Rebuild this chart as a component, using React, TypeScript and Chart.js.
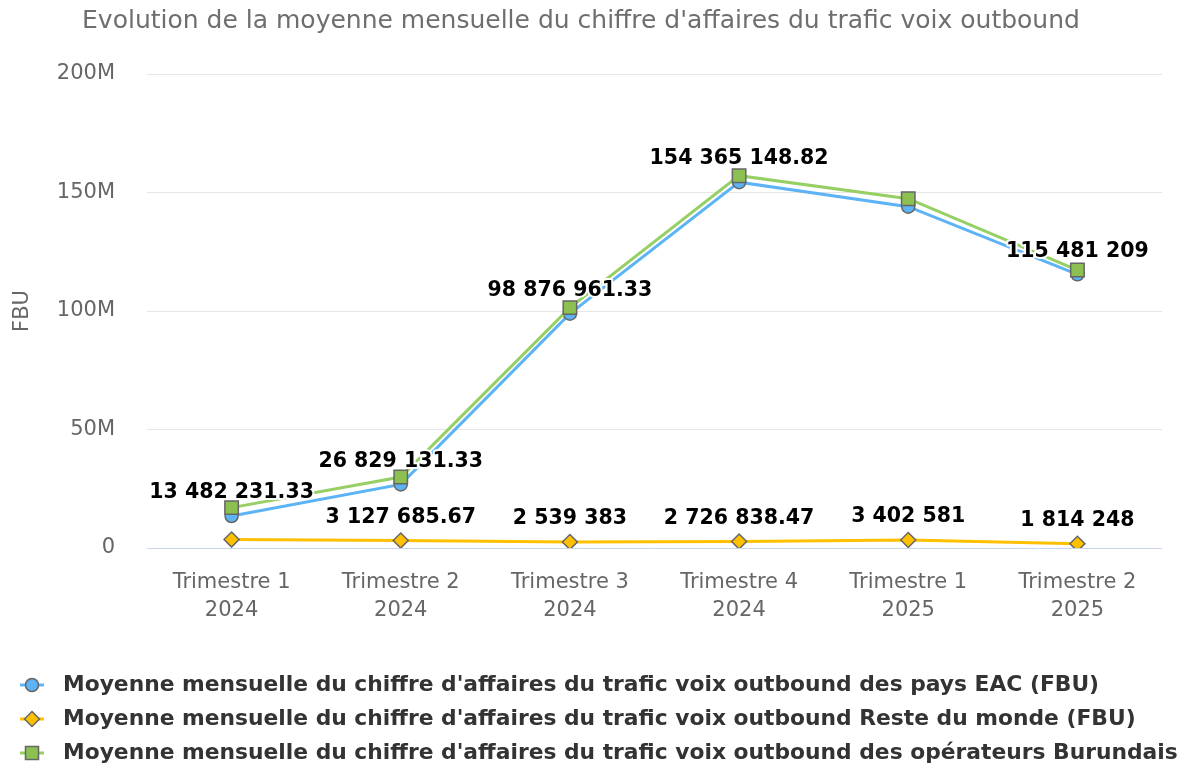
import React, { useEffect, useRef } from "react";
import { Chart, registerables } from "chart.js";

Chart.register(...registerables);

const FONT = "'DejaVu Sans', sans-serif";

const titleText = "Evolution de la moyenne mensuelle du chiffre d'affaires du trafic voix outbound";
const yAxisTitle = "FBU";

const categories: string[][] = [
  ["Trimestre 1", "2024"],
  ["Trimestre 2", "2024"],
  ["Trimestre 3", "2024"],
  ["Trimestre 4", "2024"],
  ["Trimestre 1", "2025"],
  ["Trimestre 2", "2025"],
];

const seriesNames = [
  "Moyenne mensuelle du chiffre d'affaires du trafic voix outbound des pays EAC (FBU)",
  "Moyenne mensuelle du chiffre d'affaires du trafic voix outbound Reste du monde (FBU)",
  "Moyenne mensuelle du chiffre d'affaires du trafic voix outbound des opérateurs Burundais",
];

const eacValues = [13482231.33, 26829131.33, 98876961.33, 154365148.82, 144000000, 115481209];
const resteValues = [3550000, 3127685.67, 2539383, 2726838.47, 3402581, 1814248];
const burundaisValues = [17030000, 29956817, 101416344.33, 157091987.29, 147400000, 117295457];

const eacLabelShown = [true, true, true, true, false, true];
const resteLabelShown = [false, true, true, true, true, true];
const burundaisLabelShown = [false, false, false, false, false, false];

const yTickValues = [0, 50000000, 100000000, 150000000, 200000000];

const colors = {
  eacLine: "#5cb3f5",
  eacFill: "#5cb3f5",
  resteLine: "#ffc000",
  resteFill: "#ffc000",
  burLine: "#96cf63",
  burFill: "#8cc152",
  markerBorder: "#666666",
};

function formatValue(v: number): string {
  const s = String(v);
  const [intPart, dec] = s.split(".");
  const grouped = intPart.replace(/\B(?=(\d{3})+(?!\d))/g, " ");
  return dec ? grouped + "." + dec : grouped;
}

const labelFlags = [eacLabelShown, resteLabelShown, burundaisLabelShown];

const dataLabelsPlugin = {
  id: "customDataLabels",
  afterDatasetsDraw(chart: any) {
    const ctx = chart.ctx;
    ctx.save();
    ctx.font = `bold 20.5px ${FONT}`;
    ctx.textAlign = "center";
    ctx.textBaseline = "middle";
    ctx.lineJoin = "round";
    chart.data.datasets.forEach((ds: any, di: number) => {
      const meta = chart.getDatasetMeta(di);
      const flags = labelFlags[di];
      meta.data.forEach((pt: any, i: number) => {
        if (!flags[i]) return;
        const txt = formatValue(ds.data[i]);
        const x = pt.x;
        const y = pt.y - 23;
        ctx.strokeStyle = "#ffffff";
        ctx.lineWidth = 4;
        ctx.strokeText(txt, x, y);
        ctx.fillStyle = "#000000";
        ctx.fillText(txt, x, y);
      });
    });
    ctx.restore();
  },
};

const legendPlugin = {
  id: "customLegend",
  afterDraw(chart: any) {
    const ctx = chart.ctx;
    const rows = [685, 719, 753];
    ctx.save();
    chart.data.datasets.forEach((ds: any, di: number) => {
      const y = rows[di];
      ctx.strokeStyle = ds.borderColor;
      ctx.lineWidth = 3;
      ctx.beginPath();
      ctx.moveTo(20, y);
      ctx.lineTo(44, y);
      ctx.stroke();
      ctx.fillStyle = ds.pointBackgroundColor;
      ctx.strokeStyle = colors.markerBorder;
      ctx.lineWidth = 1.5;
      ctx.beginPath();
      const cx = 32;
      if (ds.pointStyle === "circle") {
        ctx.arc(cx, y, 6.5, 0, Math.PI * 2);
      } else if (ds.pointStyle === "rectRot") {
        ctx.moveTo(cx - 7.5, y);
        ctx.lineTo(cx, y - 7.5);
        ctx.lineTo(cx + 7.5, y);
        ctx.lineTo(cx, y + 7.5);
        ctx.closePath();
      } else {
        ctx.rect(cx - 6.5, y - 6.5, 13, 13);
      }
      ctx.fill();
      ctx.stroke();
      ctx.fillStyle = "#333333";
      ctx.font = `bold 21.8px ${FONT}`;
      ctx.textAlign = "left";
      ctx.textBaseline = "middle";
      ctx.fillText(ds.label, 63, y);
    });
    ctx.restore();
  },
};

export default function App() {
  const canvasRef = useRef<HTMLCanvasElement | null>(null);

  useEffect(() => {
    document.body.style.margin = "0";
    const canvas = canvasRef.current;
    if (!canvas) return;
    const chart = new Chart(canvas, {
      type: "line",
      data: {
        labels: categories,
        datasets: [
          {
            label: seriesNames[0],
            data: eacValues,
            borderColor: colors.eacLine,
            backgroundColor: colors.eacFill,
            pointBackgroundColor: colors.eacFill,
            pointBorderColor: colors.markerBorder,
            pointBorderWidth: 1.5,
            pointStyle: "circle",
            pointRadius: 6.5,
            borderWidth: 3,
            tension: 0,
            order: 3,
          },
          {
            label: seriesNames[1],
            data: resteValues,
            borderColor: colors.resteLine,
            backgroundColor: colors.resteFill,
            pointBackgroundColor: colors.resteFill,
            pointBorderColor: colors.markerBorder,
            pointBorderWidth: 1.5,
            pointStyle: "rectRot",
            pointRadius: 7.5,
            borderWidth: 3,
            tension: 0,
            order: 2,
          },
          {
            label: seriesNames[2],
            data: burundaisValues,
            borderColor: colors.burLine,
            backgroundColor: colors.burFill,
            pointBackgroundColor: colors.burFill,
            pointBorderColor: colors.markerBorder,
            pointBorderWidth: 1.5,
            pointStyle: "rect",
            pointRadius: 9.5,
            borderWidth: 3,
            tension: 0,
            order: 1,
          },
        ] as any,
      },
      options: {
        responsive: false,
        animation: false,
        layout: { padding: { top: 0, left: 0, right: 32, bottom: 136 } },
        plugins: {
          legend: { display: false },
          tooltip: { enabled: false },
          title: {
            display: true,
            text: titleText,
            color: "#6e6e6e",
            font: { family: FONT, size: 25, weight: "normal" as any },
            padding: { top: 6, bottom: 38 },
          },
        },
        scales: {
          x: {
            offset: true,
            grid: { display: false },
            border: { display: false },
            ticks: {
              color: "#666666",
              font: { family: FONT, size: 21, lineHeight: 1.33 },
              padding: 13,
              maxRotation: 0,
              autoSkip: false,
            },
            afterFit: (scale: any) => {
              scale.height = 90;
            },
          },
          y: {
            min: 0,
            max: 200000000,
            afterBuildTicks: (scale: any) => {
              scale.ticks = yTickValues.map((v) => ({ value: v }));
            },
            grid: {
              color: (c: any) => (c.tick && c.tick.value === 0 ? "#ccd6eb" : "#e6e6e6"),
              lineWidth: 1,
              drawTicks: false,
            },
            border: { display: false },
            ticks: {
              color: "#666666",
              font: { family: FONT, size: 21 },
              padding: 32,
              callback: (v: any) => (v === 0 ? "0" : v / 1000000 + "M"),
            },
            title: {
              display: true,
              text: yAxisTitle,
              color: "#666666",
              font: { family: FONT, size: 21 },
              padding: { top: 10, bottom: 0 },
            },
            afterFit: (scale: any) => {
              scale.width = 147;
            },
          },
        },
      },
      plugins: [dataLabelsPlugin, legendPlugin],
    });
    return () => chart.destroy();
  }, []);

  return (
    <div style={{ width: 1194, height: 774 }}>
      <canvas ref={canvasRef} width={1194} height={774} style={{ display: "block" }} />
    </div>
  );
}
